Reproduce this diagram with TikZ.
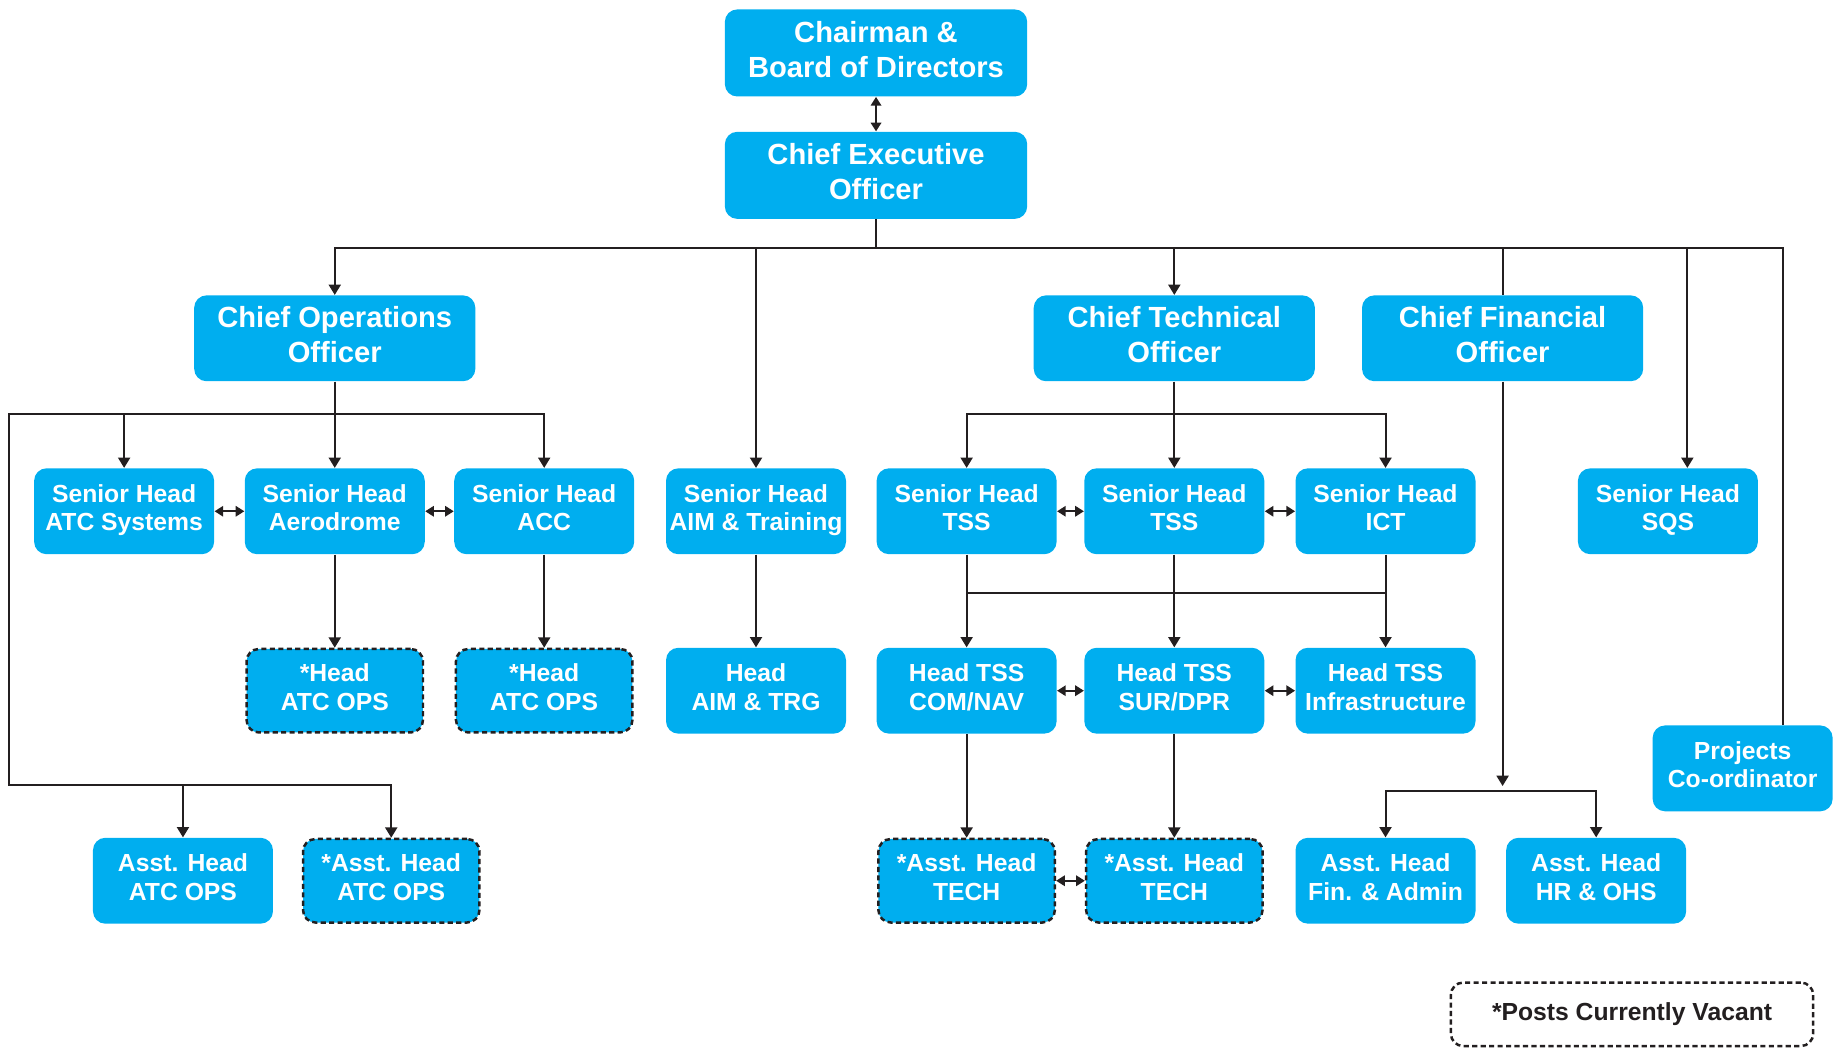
\documentclass[tikz,border=0pt]{standalone}
\usepackage{fontspec}
\setmainfont{Liberation Sans}
\usetikzlibrary{arrows.meta,positioning}
\definecolor{OrgBlue}{HTML}{00AEEF}
\definecolor{OrgInk}{HTML}{231F20}
\tikzset{
  every node/.style={align=center, text=white, inner sep=0pt},
  bigbox/.style={fill=OrgBlue, rounded corners=6pt, text depth=3.5pt, minimum width=5.14cm, minimum height=1.48cm, font=\bfseries\fontsize{14.1}{16.9}\selectfont},
  chiefbox/.style={bigbox, minimum width=4.78cm, minimum height=1.46cm},
  unitbox/.style={fill=OrgBlue, rounded corners=6pt, text depth=3.5pt, minimum width=3.06cm, minimum height=1.46cm, font=\bfseries\fontsize{11.95}{13.7}\selectfont},
  vacant/.style={unitbox, draw=OrgInk, line width=1.2pt, dash pattern=on 2.5pt off 1.6pt, minimum width=3.0cm, minimum height=1.42cm},
  legendbox/.style={draw=OrgInk, line width=1.2pt, dash pattern=on 2.5pt off 1.6pt, rounded corners=6pt, fill=white, text=OrgInk, minimum width=6.16cm, minimum height=1.08cm, font=\bfseries\fontsize{11.95}{13.7}\selectfont},
  link/.style={draw=OrgInk, line width=1pt},
  feed/.style={link, -{Triangle[length=5pt,width=5.8pt]}},
  feedboth/.style={link, {Triangle[length=5pt,width=5.8pt]}-{Triangle[length=5pt,width=5.8pt]}},
  peer/.style={link, {Triangle[length=4.2pt,width=5pt]}-{Triangle[length=4.2pt,width=5pt]}},
}

\begin{document}
\begin{tikzpicture}[x=0.02cm, y=-0.02cm]
  \useasboundingbox (0,0) rectangle (1568,890);
  % Board and chiefs
  \node[bigbox] (chair) at (744.5,45) {Chairman \&\\Board of Directors};
  \node[bigbox] (ceo) at (744.5,149) {Chief Executive\\Officer};
  \node[chiefbox] (coo) at (284.5,287.5) {Chief Operations\\Officer};
  \node[chiefbox] (cto) at (998,287.5) {Chief Technical\\Officer};
  \node[chiefbox] (cfo) at (1277,287.5) {Chief Financial\\Officer};
  % Senior heads
  \node[unitbox] (shAtc) at (105.5,434.5) {Senior Head\\ATC Systems};
  \node[unitbox] (shAero) at (284.5,434.5) {Senior Head\\Aerodrome};
  \node[unitbox] (shAcc) at (462.5,434.5) {Senior Head\\ACC};
  \node[unitbox] (shAim) at (642.5,434.5) {Senior Head\\AIM \& Training};
  \node[unitbox] (shTssA) at (821.5,434.5) {Senior Head\\TSS};
  \node[unitbox] (shTssB) at (998,434.5) {Senior Head\\TSS};
  \node[unitbox] (shIct) at (1177.5,434.5) {Senior Head\\ICT};
  \node[unitbox] (shSqs) at (1417.5,434.5) {Senior Head\\SQS};
  % Heads
  \node[vacant] (hAtcA) at (284.5,587) {*Head\\ATC OPS};
  \node[vacant] (hAtcB) at (462.5,587) {*Head\\ATC OPS};
  \node[unitbox] (hAim) at (642.5,587) {Head\\AIM \& TRG};
  \node[unitbox] (hCom) at (821.5,587) {Head TSS\\COM/NAV};
  \node[unitbox] (hSur) at (998,587) {Head TSS\\SUR/DPR};
  \node[unitbox] (hInfra) at (1177.5,587) {Head TSS\\Infrastructure};
  \node[unitbox] (proj) at (1481,653) {Projects\\Co-ordinator};
  % Assistant heads
  \node[unitbox] (ahAtcA) at (155.5,748.5) {Asst. Head\\ATC OPS};
  \node[vacant] (ahAtcB) at (332.5,748.5) {*Asst. Head\\ATC OPS};
  \node[vacant] (ahTechA) at (821.5,748.5) {*Asst. Head\\TECH};
  \node[vacant] (ahTechB) at (998,748.5) {*Asst. Head\\TECH};
  \node[unitbox] (ahFin) at (1177.5,748.5) {Asst. Head\\Fin. \& Admin};
  \node[unitbox] (ahHr) at (1356.5,748.5) {Asst. Head\\HR \& OHS};
  \node[legendbox] (legend) at (1387,862) {*Posts Currently Vacant};
  % Bus points
  \coordinate (busTop) at (744.5,211);
  \coordinate (busEnd) at (1515,211);
  \coordinate (sqsDrop) at (1434,211);
  \coordinate (cooBusL) at (8,352);
  \coordinate (atcBusL) at (8,667);
  \coordinate (ctoBus) at (998,352);
  \coordinate (techMid) at (998,504);
  \coordinate (finBus) at (1277,672);
  \coordinate (finTip) at (1277,668);
  % Top level
  \draw[peer] (chair) -- (ceo);
  \draw[link] (ceo.south) -- (busTop);
  \draw[feed] (busEnd |- proj.north) -- (busEnd) -| (coo.north);
  \draw[feed] (shAim.north |- busTop) -- (shAim.north);
  \draw[feed] (cto.north |- busTop) -- (cto.north);
  \draw[link] (cfo.north |- busTop) -- (cfo.north);
  \draw[feed] (sqsDrop) -- (sqsDrop |- shSqs.north);
  % Operations
  \draw[feedboth] (shAcc.north) |- (cooBusL) -- (atcBusL) -| (ahAtcB.north);
  \draw[feed] (coo) -- (shAero);
  \draw[feed] (shAtc.north |- cooBusL) -- (shAtc.north);
  \draw[feed] (ahAtcA.north |- atcBusL) -- (ahAtcA.north);
  \draw[peer] (shAtc) -- (shAero);
  \draw[peer] (shAero) -- (shAcc);
  \draw[feed] (shAero) -- (hAtcA);
  \draw[feed] (shAcc) -- (hAtcB);
  \draw[feed] (shAim) -- (hAim);
  % Technical
  \draw[feedboth] (shTssA.north) |- (ctoBus) -| (shIct.north);
  \draw[feed] (cto) -- (shTssB);
  \draw[peer] (shTssA) -- (shTssB);
  \draw[peer] (shTssB) -- (shIct);
  \draw[link, line cap=rect] (shTssA.south |- techMid) -- (shIct.south |- techMid);
  \draw[feed] (shTssA) -- (hCom);
  \draw[feed] (shTssB) -- (hSur);
  \draw[feed] (shIct) -- (hInfra);
  \draw[peer] (hCom) -- (hSur);
  \draw[peer] (hSur) -- (hInfra);
  \draw[feed] (hCom) -- (ahTechA);
  \draw[feed] (hSur) -- (ahTechB);
  \draw[peer] (ahTechA) -- (ahTechB);
  % Finance
  \draw[feed] (cfo.south) -- (finTip);
  \draw[feedboth] (ahFin.north) |- (finBus) -| (ahHr.north);
\end{tikzpicture}
\end{document}
